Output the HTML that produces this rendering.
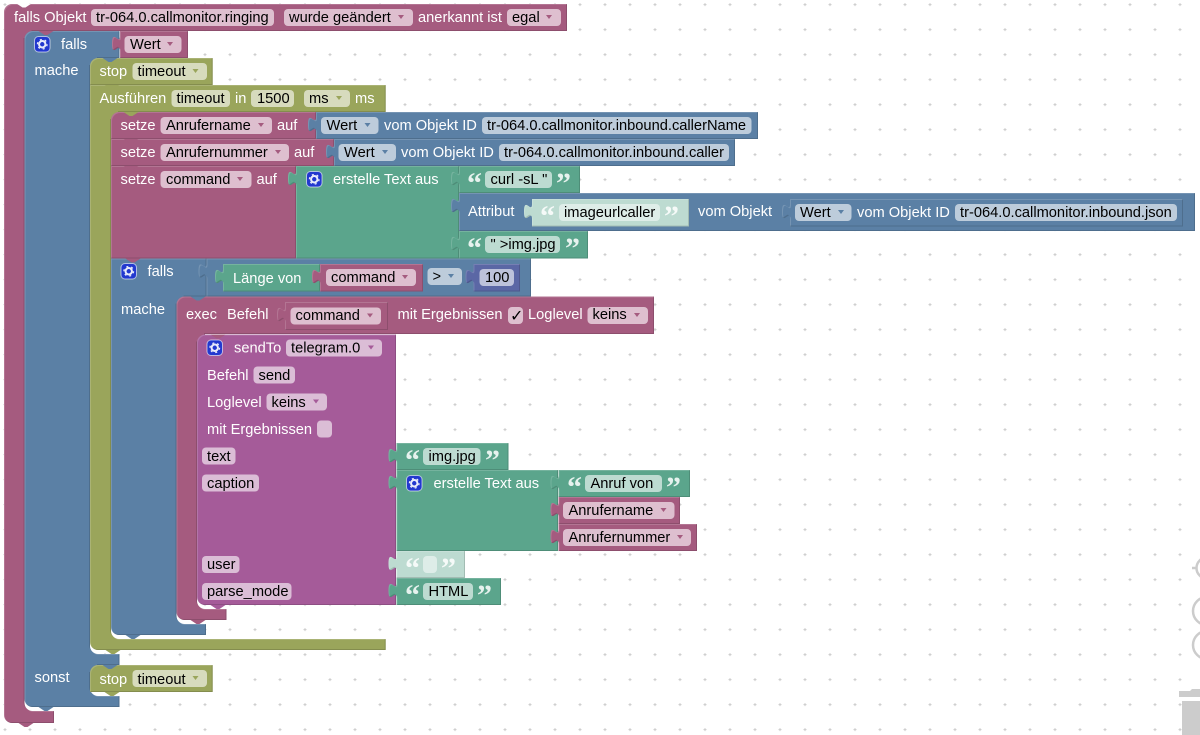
<!DOCTYPE html>
<html><head><meta charset="utf-8"><title>Blockly</title>
<style>
html,body{margin:0;padding:0;background:#fff;width:1200px;height:735px;overflow:hidden}
svg{display:block;filter:blur(.35px)}
text{font-family:"Liberation Sans",sans-serif;font-size:14.67px;white-space:pre}
.w{fill:#fff}.k{fill:#000}
.q{font-family:"Liberation Serif",serif;font-weight:bold;font-size:30px;fill:#fff;fill-opacity:.85}
.m{fill:#A55B7F}.b{fill:#5B80A5}.o{fill:#9AA55B}.g{fill:#5BA58C}.p{fill:#A55B99}.i{fill:#5B67A5}.s{fill:#BDDBD1}
.fm{fill:#DEBFCF}.fb{fill:#BDCCDB}.fo{fill:#D7DBBD}.fg{fill:#BDDBD1}.fp{fill:#DBBDD6}.fi{fill:#BDC2DB}.fs{fill:#DEEDE8}
</style></head><body>
<svg width="1200" height="735" viewBox="0 0 1200 735" xmlns="http://www.w3.org/2000/svg">
<defs>
<pattern id="grid" x="0" y="0" width="25" height="25" patternUnits="userSpaceOnUse">
<path d="M3.5,4.6H6.5M5,3.1V6.1" stroke="#ccc" stroke-width="1"/>
</pattern>
<filter id="bv" x="-2%" y="-2%" width="104%" height="104%" color-interpolation-filters="sRGB">
<feOffset in="SourceAlpha" dx="1" dy="1" result="a"/>
<feComposite in="SourceAlpha" in2="a" operator="out" result="tl"/>
<feFlood flood-color="#fff" flood-opacity=".16"/>
<feComposite in2="tl" operator="in" result="light"/>
<feOffset in="SourceAlpha" dx="-1" dy="-1" result="c"/>
<feComposite in="SourceAlpha" in2="c" operator="out" result="br"/>
<feFlood flood-color="#000" flood-opacity=".14"/>
<feComposite in2="br" operator="in" result="dark"/>
<feMerge><feMergeNode in="SourceGraphic"/><feMergeNode in="light"/><feMergeNode in="dark"/></feMerge>
</filter>
<polygon id="ar" points="-3,-2 3,-2 0,2"/>
<polygon id="n" points="-7.5,0 -1.5,4 1.5,4 7.5,0"/>
<g id="ic">
<rect x=".5" y=".5" width="15.5" height="15.5" rx="4" fill="#2238CF" stroke="#fff" stroke-opacity=".6"/>
<circle cx="8.25" cy="8.25" r="3.2" fill="none" stroke="#fff" stroke-opacity=".9" stroke-width="2"/>
<circle cx="8.25" cy="8.25" r="4.8" fill="none" stroke="#fff" stroke-opacity=".9" stroke-width="1.3" stroke-dasharray="2 3"/>
</g>
</defs>
<rect width="1200" height="735" fill="#fff"/>
<rect width="1200" height="735" fill="url(#grid)"/>

<!-- workspace controls -->
<g fill="none" stroke="#ccc" stroke-width="2.5">
<circle cx="1207" cy="568" r="10.5"/><path d="M1192,568H1197"/>
<circle cx="1207" cy="611" r="14"/>
<circle cx="1207" cy="645" r="14"/>
</g>
<path d="M1179,691H1190L1192,689H1200V697H1179Z" fill="#ccc"/>
<rect x="1182" y="701" width="18" height="34" fill="#ccc"/>

<!-- blocks -->
<g filter="url(#bv)"><path class="m" d="M4,12A8,8 0 0 1 12,4H567V31H32.5V39H24.5V703A8,8 0 0 0 32.5,711H54V723H12A8,8 0 0 1 4,715Z"/></g>
<g filter="url(#bv)"><path class="b" d="M24.5,39A8,8 0 0 1 32.5,31H119.5V58H98V66H90V646A8,8 0 0 0 98,654H119.5V665H98V673H90V688A8,8 0 0 0 98,696H119.5V707H32.5A8,8 0 0 1 24.5,699Z"/></g>
<g filter="url(#bv)"><path class="m" d="M120,31H188V58H120V51c0,-10 -8,8 -8,-7.5s8,2.5 8,-7.5Z"/></g>
<g filter="url(#bv)"><path class="o" d="M90,66A8,8 0 0 1 98,58H212.7V85H90Z"/></g>
<g filter="url(#bv)"><path class="o" d="M90,85H385.7V112H119V120H111V631A8,8 0 0 0 119,639H385.7V650H98A8,8 0 0 1 90,642Z"/></g>

<g filter="url(#bv)"><path class="m" d="M111,120A8,8 0 0 1 119,112H316V139H111Z"/></g>
<g filter="url(#bv)"><path class="b" d="M316,112H758V139H316V132c0,-10 -8,8 -8,-7.5s8,2.5 8,-7.5Z"/></g>
<g filter="url(#bv)"><path class="m" d="M111,139H334V166H111Z"/></g>
<g filter="url(#bv)"><path class="b" d="M334,139H735V166H334V159c0,-10 -8,8 -8,-7.5s8,2.5 8,-7.5Z"/></g>
<g filter="url(#bv)"><path class="m" d="M111,166H296V258.5H111Z"/></g>
<g filter="url(#bv)"><path class="g" d="M296,166H459V258.5H296V186c0,-10 -8,8 -8,-7.5s8,2.5 8,-7.5Z"/></g>
<g filter="url(#bv)"><path class="g" d="M459,166H580V193H459V186c0,-10 -8,8 -8,-7.5s8,2.5 8,-7.5Z"/></g>
<g filter="url(#bv)"><path class="b" d="M459,193H1195V231H459V213c0,-10 -8,8 -8,-7.5s8,2.5 8,-7.5Z"/></g>
<g filter="url(#bv)"><path class="s" d="M532,199H689V226.5H532V219c0,-10 -8,8 -8,-7.5s8,2.5 8,-7.5Z"/></g>
<g filter="url(#bv)"><path class="b" d="M790,199H1183V226.5H790V219c0,-10 -8,8 -8,-7.5s8,2.5 8,-7.5Z"/></g>
<g filter="url(#bv)"><path class="g" d="M459,231H588V258.5H459V251c0,-10 -8,8 -8,-7.5s8,2.5 8,-7.5Z"/></g>

<g filter="url(#bv)"><path class="b" d="M111,258.5H206.5V296.5H184.5V304.5H176.5V616A8,8 0 0 0 184.5,624H206V635H119A8,8 0 0 1 111,627Z"/></g>
<g filter="url(#bv)"><path class="b" d="M206.5,258.5H531V296.5H206.5V278.5c0,-10 -8,8 -8,-7.5s8,2.5 8,-7.5Z"/></g>
<g filter="url(#bv)"><path class="g" d="M223,264H320V291.5H223V284c0,-10 -8,8 -8,-7.5s8,2.5 8,-7.5Z"/></g>
<g filter="url(#bv)"><path class="m" d="M320,264H423V291.5H320V284c0,-10 -8,8 -8,-7.5s8,2.5 8,-7.5Z"/></g>
<g filter="url(#bv)"><path class="i" d="M473.5,264H520V291.5H473.5V284c0,-10 -8,8 -8,-7.5s8,2.5 8,-7.5Z"/></g>

<g filter="url(#bv)"><path class="m" d="M176.5,304.5A8,8 0 0 1 184.5,296.5H654V334H205V342.5H197V601A8,8 0 0 0 205,609H226.5V620H184.5A8,8 0 0 1 176.5,612Z"/></g>
<g filter="url(#bv)"><path class="m" d="M285,302H388V330H285V322c0,-10 -8,8 -8,-7.5s8,2.5 8,-7.5Z"/></g>
<g filter="url(#bv)"><path class="p" d="M197,342.5A8,8 0 0 1 205,334.5H396V605H205A8,8 0 0 1 197,597Z"/></g>

<g filter="url(#bv)"><path class="g" d="M396.5,443H508.5V470H396.5V463c0,-10 -8,8 -8,-7.5s8,2.5 8,-7.5Z"/></g>
<g filter="url(#bv)"><path class="g" d="M396.5,470H558V551H396.5V490c0,-10 -8,8 -8,-7.5s8,2.5 8,-7.5Z"/></g>
<g filter="url(#bv)"><path class="g" d="M558.5,470H690V497H558.5V490c0,-10 -8,8 -8,-7.5s8,2.5 8,-7.5Z"/></g>
<g filter="url(#bv)"><path class="m" d="M558.5,497H680V524H558.5V517c0,-10 -8,8 -8,-7.5s8,2.5 8,-7.5Z"/></g>
<g filter="url(#bv)"><path class="m" d="M558.5,524H697V551H558.5V544c0,-10 -8,8 -8,-7.5s8,2.5 8,-7.5Z"/></g>
<g filter="url(#bv)"><path class="s" d="M396.5,551H465V578H396.5V571c0,-10 -8,8 -8,-7.5s8,2.5 8,-7.5Z"/></g>
<g filter="url(#bv)"><path class="g" d="M396.5,578H501V605H396.5V598c0,-10 -8,8 -8,-7.5s8,2.5 8,-7.5Z"/></g>

<g filter="url(#bv)"><path class="o" d="M90,673A8,8 0 0 1 98,665H212.7V692H90Z"/></g>

<!-- notches / bumps -->
<use href="#n" x="24" y="3.5" fill="#fff"/>
<use href="#n" x="46" y="31" class="m"/>
<use href="#n" x="110" y="58" class="b"/>
<use href="#n" x="112" y="85" class="o"/>
<use href="#n" x="131" y="112" class="o"/>
<use href="#n" x="131" y="139" class="m"/>
<use href="#n" x="131" y="166" class="m"/>
<use href="#n" x="133" y="258.5" class="m"/>
<use href="#n" x="198" y="296.5" class="b"/>
<use href="#n" x="218" y="334.5" class="m"/>
<use href="#n" x="110" y="665" class="b"/>
<use href="#n" x="218" y="605" class="p"/>
<use href="#n" x="198" y="620" class="m"/>
<use href="#n" x="133" y="635" class="b"/>
<use href="#n" x="113" y="650" class="o"/>
<use href="#n" x="112" y="692" class="o"/>
<use href="#n" x="46" y="707" class="b"/>
<use href="#n" x="26" y="723" class="m"/>

<!-- fields -->
<g>
<rect class="fm" x="91" y="9" width="183" height="17" rx="4"/>
<rect class="fm" x="284" y="9" width="129" height="17" rx="4"/>
<rect class="fm" x="507" y="9" width="54" height="17" rx="4"/>
<rect class="fm" x="124.5" y="36" width="57" height="17" rx="4"/>
<rect class="fo" x="132.5" y="63" width="74.5" height="17" rx="4"/>
<rect class="fo" x="171.5" y="90" width="58.5" height="17" rx="4"/>
<rect class="fo" x="251" y="90" width="43" height="17" rx="4"/>
<rect class="fo" x="304" y="90" width="46" height="17" rx="4"/>
<rect class="fm" x="160.5" y="117" width="111.5" height="17" rx="4"/>
<rect class="fb" x="321" y="117" width="57.5" height="17" rx="4"/>
<rect class="fb" x="482" y="117" width="269.5" height="17" rx="4"/>
<rect class="fm" x="160.5" y="144" width="128.5" height="17" rx="4"/>
<rect class="fb" x="338.5" y="144" width="57.5" height="17" rx="4"/>
<rect class="fb" x="499" y="144" width="230" height="17" rx="4"/>
<rect class="fm" x="160.5" y="171" width="91" height="17" rx="4"/>
<rect class="fg" x="485" y="171" width="67" height="17" rx="4"/>
<rect class="fs" x="559" y="204" width="101" height="17" rx="4"/>
<rect class="fb" x="795" y="204" width="56.5" height="17" rx="4"/>
<rect class="fb" x="955" y="204" width="222" height="17" rx="4"/>
<rect class="fg" x="485" y="236" width="75" height="17" rx="4"/>
<rect class="fm" x="326" y="269" width="90" height="17" rx="4"/>
<rect class="fb" x="427.5" y="268" width="34.5" height="17" rx="4"/>
<rect class="fi" x="479.5" y="269" width="34.5" height="17" rx="4"/>
<rect class="fm" x="290.5" y="307.5" width="90.5" height="17" rx="4"/>
<rect class="fm" x="508" y="307" width="15" height="17" rx="4"/>
<rect class="fm" x="587.5" y="307" width="60.5" height="17" rx="4"/>
<rect class="fp" x="286" y="339.5" width="96" height="17" rx="4"/>
<rect class="fp" x="253.5" y="366.5" width="41.5" height="17" rx="4"/>
<rect class="fp" x="266.5" y="393.5" width="60.5" height="17" rx="4"/>
<rect class="fp" x="317" y="420.5" width="15" height="17" rx="4"/>
<rect class="fp" x="202" y="447.5" width="33.5" height="17" rx="4"/>
<rect class="fp" x="202" y="474.5" width="57" height="17" rx="4"/>
<rect class="fp" x="202" y="556" width="37.5" height="17" rx="4"/>
<rect class="fp" x="202" y="583" width="89.5" height="17" rx="4"/>
<rect class="fg" x="423" y="448" width="57.5" height="17" rx="4"/>
<rect class="fg" x="585" y="475" width="77" height="17" rx="4"/>
<rect class="fm" x="563" y="502" width="111.5" height="17" rx="4"/>
<rect class="fm" x="563" y="529" width="128" height="17" rx="4"/>
<rect class="fs" x="423" y="556" width="14" height="17" rx="4"/>
<rect class="fg" x="423" y="583" width="50" height="17" rx="4"/>
<rect class="fo" x="132.5" y="670" width="74.5" height="17" rx="4"/>
</g>

<!-- dropdown arrows -->
<use href="#ar" x="401" y="17" class="m"/>
<use href="#ar" x="549" y="17" class="m"/>
<use href="#ar" x="170" y="44" class="m"/>
<use href="#ar" x="195.5" y="71" class="o"/>
<use href="#ar" x="339" y="98" class="o"/>
<use href="#ar" x="261" y="125" class="m"/>
<use href="#ar" x="367.5" y="125" class="b"/>
<use href="#ar" x="278" y="152" class="m"/>
<use href="#ar" x="385" y="152" class="b"/>
<use href="#ar" x="240" y="179" class="m"/>
<use href="#ar" x="841" y="212" class="b"/>
<use href="#ar" x="405" y="277" class="m"/>
<use href="#ar" x="451" y="276" class="b"/>
<use href="#ar" x="370" y="315.5" class="m"/>
<use href="#ar" x="637" y="315" class="m"/>
<use href="#ar" x="371" y="347.5" class="p"/>
<use href="#ar" x="316" y="401.5" class="p"/>
<use href="#ar" x="663.5" y="510" class="m"/>
<use href="#ar" x="680" y="537" class="m"/>
<use href="#ar" x="195.5" y="678" class="o"/>

<!-- icons -->
<use href="#ic" x="34" y="36"/>
<use href="#ic" x="306" y="171"/>
<use href="#ic" x="120.5" y="263"/>
<use href="#ic" x="206.5" y="339.5"/>
<use href="#ic" x="406" y="475"/>

<!-- quotes -->
<text class="q" x="467" y="193">“</text><text class="q" x="556" y="193">”</text>
<text class="q" x="540" y="226" fill-opacity="1">“</text><text class="q" x="664" y="226">”</text>
<text class="q" x="467" y="258">“</text><text class="q" x="565" y="258">”</text>
<text class="q" x="405" y="470">“</text><text class="q" x="485" y="470">”</text>
<text class="q" x="567" y="497">“</text><text class="q" x="666" y="497">”</text>
<text class="q" x="405" y="578" fill-opacity=".8">“</text><text class="q" x="441" y="578">”</text>
<text class="q" x="405" y="605">“</text><text class="q" x="477" y="605">”</text>

<!-- white labels -->
<text class="w" x="14" y="22">falls Objekt</text>
<text class="w" x="418" y="22">anerkannt ist</text>
<text class="w" x="61" y="49">falls</text>
<text class="w" x="34.5" y="75">mache</text>
<text class="w" x="99.5" y="76">stop</text>
<text class="w" x="99.5" y="103">Ausführen</text>
<text class="w" x="235" y="103">in</text>
<text class="w" x="355" y="103">ms</text>
<text class="w" x="120.5" y="130">setze</text>
<text class="w" x="277" y="130">auf</text>
<text class="w" x="384" y="130">vom Objekt ID</text>
<text class="w" x="120.5" y="157">setze</text>
<text class="w" x="294" y="157">auf</text>
<text class="w" x="401" y="157">vom Objekt ID</text>
<text class="w" x="120.5" y="184">setze</text>
<text class="w" x="256.5" y="184">auf</text>
<text class="w" x="333" y="184">erstelle Text aus</text>
<text class="w" x="468" y="216">Attribut</text>
<text class="w" x="698" y="216">vom Objekt</text>
<text class="w" x="857" y="217">vom Objekt ID</text>
<text class="w" x="147.5" y="276">falls</text>
<text class="w" x="233" y="283">Länge von</text>
<text class="w" x="121" y="314">mache</text>
<text class="w" x="186" y="319">exec</text>
<text class="w" x="227" y="319">Befehl</text>
<text class="w" x="397.5" y="319">mit Ergebnissen</text>
<text class="w" x="528" y="319">Loglevel</text>
<text class="w" x="234" y="352.5">sendTo</text>
<text class="w" x="207" y="380">Befehl</text>
<text class="w" x="207" y="407">Loglevel</text>
<text class="w" x="207" y="434">mit Ergebnissen</text>
<text class="w" x="433.5" y="488">erstelle Text aus</text>
<text class="w" x="34.5" y="682">sonst</text>
<text class="w" x="99.5" y="684">stop</text>

<!-- field text -->
<text class="k" x="96" y="22">tr-064.0.callmonitor.ringing</text>
<text class="k" x="289" y="22">wurde geändert</text>
<text class="k" x="512" y="22">egal</text>
<text class="k" x="130" y="49">Wert</text>
<text class="k" x="137.5" y="76">timeout</text>
<text class="k" x="176.5" y="103">timeout</text>
<text class="k" x="257" y="103">1500</text>
<text class="k" x="309" y="103">ms</text>
<text class="k" x="166" y="130">Anrufername</text>
<text class="k" x="326.5" y="130">Wert</text>
<text class="k" x="487" y="130">tr-064.0.callmonitor.inbound.callerName</text>
<text class="k" x="166" y="157">Anrufernummer</text>
<text class="k" x="344" y="157">Wert</text>
<text class="k" x="504" y="157">tr-064.0.callmonitor.inbound.caller</text>
<text class="k" x="166" y="184">command</text>
<text class="k" x="490.5" y="184">curl -sL "</text>
<text class="k" x="564" y="217">imageurlcaller</text>
<text class="k" x="800" y="217">Wert</text>
<text class="k" x="960" y="217">tr-064.0.callmonitor.inbound.json</text>
<text class="k" x="490.5" y="249">" &gt;img.jpg</text>
<text class="k" x="331" y="282">command</text>
<text class="k" x="432.5" y="281">&gt;</text>
<text class="k" x="485" y="282">100</text>
<text class="k" x="295.5" y="320">command</text>
<text class="k" x="510" y="321" style="font-family:'DejaVu Sans',sans-serif;font-size:16px">✓</text>
<text class="k" x="592.5" y="319">keins</text>
<text class="k" x="291" y="352.5">telegram.0</text>
<text class="k" x="258.5" y="380">send</text>
<text class="k" x="271.5" y="407">keins</text>
<text class="k" x="207" y="461">text</text>
<text class="k" x="207" y="488">caption</text>
<text class="k" x="207" y="569">user</text>
<text class="k" x="207" y="596">parse_mode</text>
<text class="k" x="428.5" y="461">img.jpg</text>
<text class="k" x="590.5" y="488">Anruf von</text>
<text class="k" x="568.5" y="515">Anrufername</text>
<text class="k" x="568.5" y="542">Anrufernummer</text>
<text class="k" x="428.5" y="596">HTML</text>
<text class="k" x="137.5" y="684">timeout</text>
</svg>
</body></html>
